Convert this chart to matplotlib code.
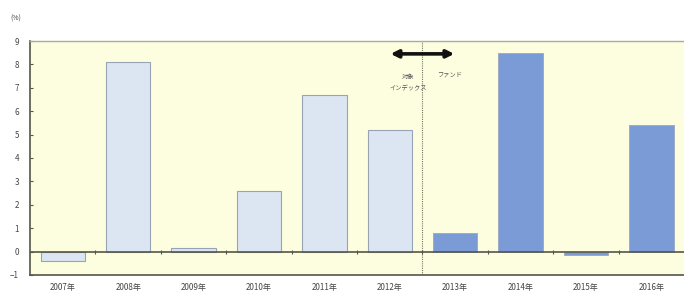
import numpy as np
import matplotlib.pyplot as plt

plt.rcParams['font.family'] = ['Noto Sans CJK JP', 'DejaVu Sans']

years = ['2007年', '2008年', '2009年', '2010年', '2011年', '2012年',
         '2013年', '2014年', '2015年', '2016年']
index_vals = [-0.4, 8.1, 0.15, 2.6, 6.7, 5.2]
fund_vals = [0.8, 8.5, -0.15, 5.4]

fig = plt.figure(figsize=(6.84, 2.95), dpi=100)
ax = fig.add_axes([0.044, 0.068, 0.956, 0.793])
ax.set_facecolor('#fdfddf')

x1 = np.arange(len(index_vals))
x2 = np.arange(len(index_vals), len(years))
ax.bar(x1, index_vals, width=0.68, color='#dce6f3', edgecolor='#98a3b3', linewidth=0.8, zorder=2)
ax.bar(x2, fund_vals, width=0.68, color='#7b9bd6', edgecolor='#9aa6c0', linewidth=0.6, zorder=2)

ax.axhline(0, color='#555548', lw=1.2, zorder=3)
# small marks on the zero line between categories
ax.plot(np.arange(0.5, 9.5, 1), np.zeros(9), '|', color='#555548', ms=3, mew=0.8, zorder=4)

ax.axvline(5.5, color='#777766', lw=0.8, ls=(0, (1, 1)), zorder=1)
ax.annotate('', xy=(4.97, 8.45), xytext=(6.03, 8.45),
            arrowprops=dict(arrowstyle='<|-|>', color='#111111', lw=2.6, mutation_scale=11))
ax.text(5.28, 7.65, '対象\nインデックス', fontsize=4.5, color='#555555', ha='center', va='top',
        linespacing=1.7)
ax.text(5.72, 7.75, 'ファンド', fontsize=4.5, color='#555555', ha='left', va='top')

ax.set_xlim(-0.5, 9.5)
ax.set_ylim(-1, 9)
ax.set_yticks(range(-1, 10))
ax.set_xticks(range(len(years)))
ax.set_xticklabels(years)
ax.tick_params(axis='x', length=0, labelsize=5.8, labelcolor='#444444', pad=6)
ax.tick_params(axis='y', direction='in', length=2, labelsize=5.8, labelcolor='#444444',
               color='#555548', pad=8)

for s in ['left', 'bottom']:
    ax.spines[s].set_color('#555548')
    ax.spines[s].set_linewidth(1.2)
ax.spines['top'].set_color('#aaaaa0')
ax.spines['top'].set_linewidth(1.0)
ax.spines['right'].set_visible(False)

fig.text(0.015, 0.93, '(%)', fontsize=5, color='#444444')

fig.savefig('out.png', dpi=100)
